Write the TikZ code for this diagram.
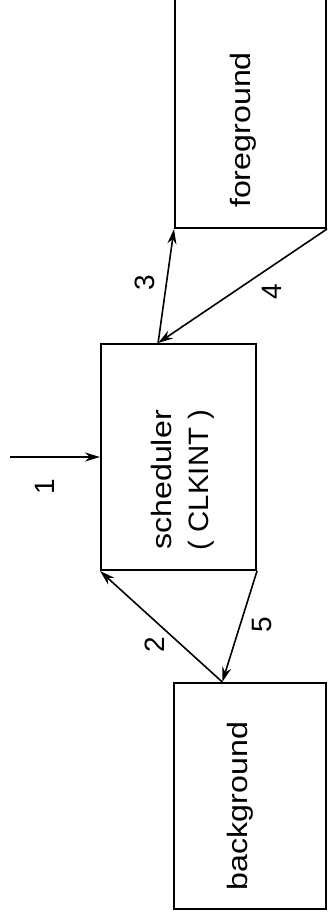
\documentclass[tikz,border=0pt]{standalone}
\usepackage{fontspec}
\setmainfont{Liberation Sans}
\usetikzlibrary{arrows.meta,calc}
\begin{document}
\begin{tikzpicture}[x=1pt,y=-1pt,
  box/.style={draw,line width=2pt,rectangle,inner sep=0pt},
  txt/.style={rotate=90,inner sep=0pt,font=\fontsize{28}{37}\selectfont,align=center},
  num/.style={rotate=90,inner sep=0pt,font=\fontsize{28}{30}\selectfont},
  arr/.style={line width=1.6pt,-{Stealth[length=15pt,width=9pt]}}]
\useasboundingbox (0,0) rectangle (328,919);
\node[box,minimum width=151pt,minimum height=240pt] (fg) at (250.5,108) {};
\node[box,minimum width=155pt,minimum height=226pt] (sch) at (178.5,457) {};
\node[box,minimum width=152pt,minimum height=226pt] (bg) at (250,796) {};
\node[txt] (fgt) at (243,130) {\scalebox{1.15}[1]{foreground}};
\node[txt] (scht) at (183,480) {\scalebox{1.15}[1]{scheduler}\\\scalebox{1.05}[1]{( CLKINT )}};
\node[txt] (bgt) at (240,806) {\scalebox{1.15}[1]{background}};
\coordinate (in) at (10,457);
\coordinate (schtop) at ($(sch.north west)!0.37!(sch.north east)$);
\coordinate (bgtop) at ($(bg.north west)!0.32!(bg.north east)$);
\draw[arr] (in) -- (sch.west);
\draw[arr] (schtop) -- (fg.south west);
\draw[arr] (fg.south east) -- (schtop);
\draw[arr] (bgtop) -- (sch.south west);
\draw[arr] (sch.south east) -- (bgtop);
\node[num] (n1) at (45,487) {1};
\node[num] (n2) at (155,645) {2};
\node[num] (n3) at (145,283) {3};
\node[num] (n4) at (272,292) {4};
\node[num] (n5) at (262,625) {5};
\end{tikzpicture}
\end{document}
